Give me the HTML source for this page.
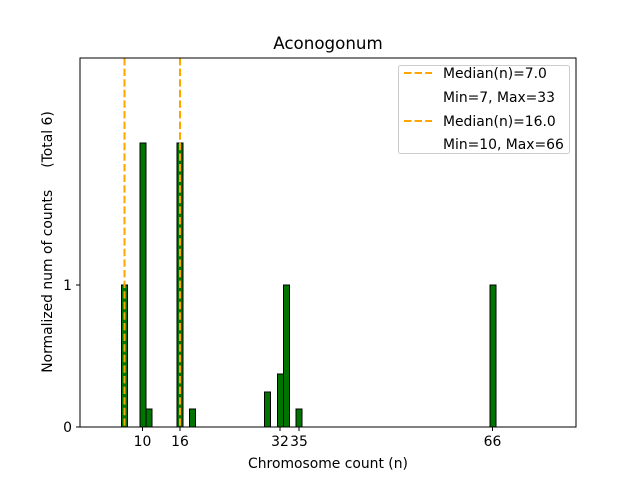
<!DOCTYPE html>
<html><head><meta charset="utf-8"><style>body{margin:0;background:#fff}svg{display:block}</style></head><body>
<svg width="640" height="480" xmlns="http://www.w3.org/2000/svg" font-family="DejaVu Sans, sans-serif" font-size="13.9">
<rect width="640" height="480" fill="#fff"/>
<g fill="#007400" stroke="#000" stroke-width="1">
<rect x="121.5" y="285" width="6" height="142"/>
<rect x="140" y="143" width="6" height="284"/>
<rect x="146" y="409" width="6" height="18"/>
<rect x="177" y="143" width="6" height="284"/>
<rect x="189.5" y="409" width="6" height="18"/>
<rect x="264.5" y="392" width="6" height="35"/>
<rect x="277.5" y="374" width="6" height="53"/>
<rect x="283.5" y="285" width="6" height="142"/>
<rect x="296" y="409" width="6" height="18"/>
<rect x="490" y="285" width="6" height="142"/>
</g>
<line x1="80" y1="427" x2="305" y2="427" stroke="#bbb" stroke-width="1"/>
<g stroke="#ffa500" stroke-width="2" stroke-dasharray="7.4,3.2">
<line x1="124.5" y1="58" x2="124.5" y2="427"/>
<line x1="180" y1="58" x2="180" y2="427"/>
</g>
<rect x="80" y="58" width="496" height="369" fill="none" stroke="#000" stroke-width="1"/>
<g stroke="#000">
<line x1="80" y1="427" x2="76" y2="427"/><line x1="80" y1="285" x2="76" y2="285"/>
<line x1="142.5" y1="427" x2="142.5" y2="431"/><line x1="180" y1="427" x2="180" y2="431"/>
<line x1="280" y1="427" x2="280" y2="431"/><line x1="299" y1="427" x2="299" y2="431"/>
<line x1="492.5" y1="427" x2="492.5" y2="431"/>
</g>
<g text-anchor="end"><text x="72" y="432">0</text><text x="72" y="290">1</text></g>
<g text-anchor="middle"><text x="142.5" y="446">10</text><text x="180" y="446">16</text><text x="280" y="446">32</text><text x="299" y="446">35</text><text x="492.5" y="446">66</text></g>
<text x="328" y="468" text-anchor="middle">Chromosome count (n)</text>
<text transform="translate(52,242) rotate(-90)" text-anchor="middle" xml:space="preserve">Normalized num of counts     (Total 6)</text>
<text x="328" y="49" text-anchor="middle" font-size="16.7">Aconogonum</text>
<rect x="398.5" y="65.5" width="171" height="88" rx="2" fill="#fff" fill-opacity="0.8" stroke="#ccc"/>
<g stroke="#ffa500" stroke-width="2" stroke-dasharray="7.4,3.2"><line x1="404" y1="73" x2="432" y2="73"/><line x1="404" y1="121" x2="432" y2="121"/></g>
<g><text x="443" y="78">Median(n)=7.0</text><text x="443" y="102">Min=7, Max=33</text><text x="443" y="126">Median(n)=16.0</text><text x="443" y="149">Min=10, Max=66</text></g>
</svg>
</body></html>
